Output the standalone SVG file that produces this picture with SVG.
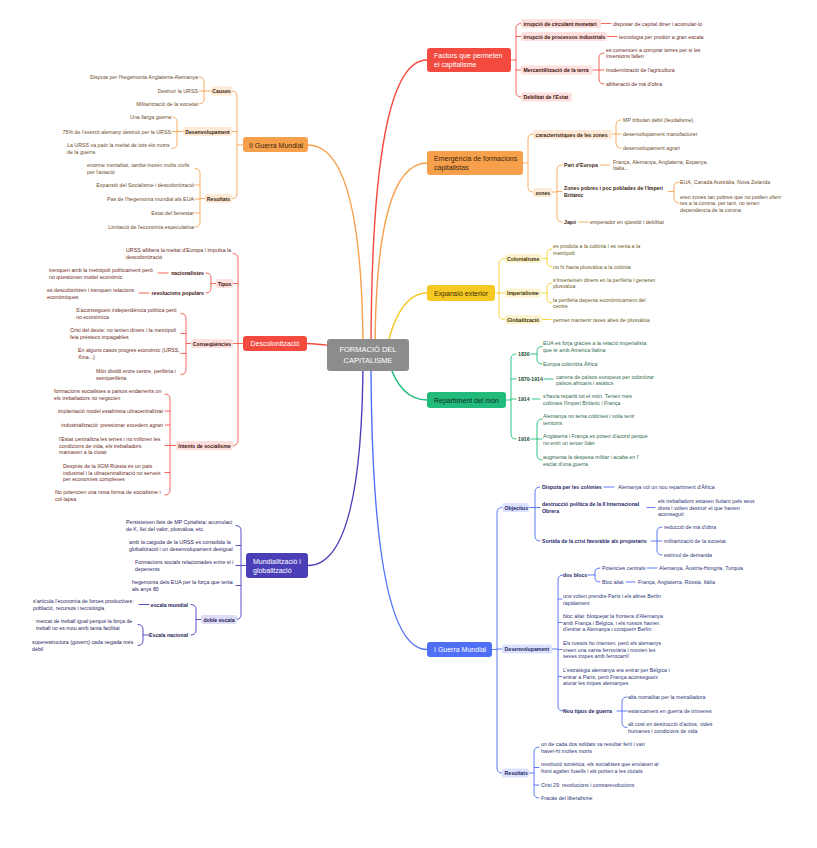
<svg xmlns="http://www.w3.org/2000/svg" width="817" height="848" viewBox="0 0 817 848">
<style>
text{font-family:"Liberation Sans",Arial,sans-serif;dominant-baseline:central}
.l{font-size:5.3px}
.s{font-size:5.2px;font-weight:bold}
.m{font-size:7px}
.e{text-anchor:end}
.c{text-anchor:middle}
.w{fill:#fff}
path{fill:none;stroke-linecap:round}
.lr{stroke:#f4675d;stroke-width:1}
.lo{stroke:#f8ad62;stroke-width:1}
.ly{stroke:#f5d23f;stroke-width:1}
.lg{stroke:#35c48a;stroke-width:1}
.lb{stroke:#5f7cf6;stroke-width:1}
.lp{stroke:#5a50c8;stroke-width:1}
.tr{fill:#6d2a24}.Tr{fill:#3d0f0c}
.to{fill:#6b4a2a}.To{fill:#3a260f}
.ty{fill:#6b5a22}.Ty{fill:#3b3000}
.tg{fill:#2e6a4c}.Tg{fill:#164a30}
.tb{fill:#2b3575}.Tb{fill:#1b2667}
.tp{fill:#2a2560}.Tp{fill:#1d1a55}
.br{fill:#fde0dd}.bo{fill:#fdead6}.by{fill:#fdf4cf}.bb{fill:#dce2fd}.bp{fill:#dedcf5}
</style>
<rect width="817" height="848" fill="#fff"/>
<g id="connectors">
<path d="M371 355 Q371 60 427 60" stroke="#f24a3f" stroke-width="1.4"/>
<path d="M375 355 Q375 163 427 163" stroke="#f7a04c" stroke-width="1.4"/>
<path d="M385 355 Q398 293 427 293" stroke="#f6c823" stroke-width="1.4"/>
<path d="M388 360 Q400 400 427 400" stroke="#22bb7c" stroke-width="1.4"/>
<path d="M371 355 Q371 649.5 427 649.5" stroke="#4e6ff6" stroke-width="1.4"/>
<path d="M363 355 Q363 145 308 145" stroke="#f7a04c" stroke-width="1.4"/>
<path d="M360 350 Q320 343.5 307 343.5" stroke="#f24a3f" stroke-width="1.4"/>
<path d="M363 355 Q363 565.5 308 565.5" stroke="#4b3fb8" stroke-width="1.4"/>
<!-- Factors -->
<path class="lr" d="M511 60 H516 M521 23.5 Q516 23.5 516 28.5 V92 Q516 97 521 97 M516 36.5 H521 M516 70 H521"/>
<path class="lr" d="M601 23.5 H611 M607 36.5 H617 M593 70 H599 M604 53 Q599 53 599 58 V79 Q599 84 604 84 M599 70 H604"/>
<!-- Emergencia -->
<path class="lo" d="M523 163 H528 M533 134 Q528 134 528 139 V187 Q528 192 533 192"/>
<path class="lo" d="M612 134 H616 M621 120 Q616 120 616 125 V143 Q616 148 621 148 M616 134 H621"/>
<path class="lo" d="M552 192 H557 M562 165 Q557 165 557 170 V217 Q557 222 562 222 M557 191.5 H562"/>
<path class="lo" d="M600 165 H610 M579 222 H588 M668 191.5 H674 M679 182 Q674 182 674 187 V198 Q674 203 679 203"/>
<!-- Expansio -->
<path class="ly" d="M495 293 H499 M505 258.5 Q499 258.5 499 263.5 V314.5 Q499 319.5 505 319.5 M499 293 H505"/>
<path class="ly" d="M542 258.5 H547 M552 249 Q547 249 547 254 V262 Q547 267 552 267"/>
<path class="ly" d="M541 293 H547 M552 283 Q547 283 547 288 V298 Q547 303 552 303 M542 319.5 H551"/>
<!-- Repartiment -->
<path class="lg" d="M506 400 H511 M516 354 Q511 354 511 359 V434 Q511 439 516 439 M511 379 H516 M511 399 H516"/>
<path class="lg" d="M531 354 H537 M542 346.5 Q537 346.5 537 351.5 V359 Q537 364 542 364"/>
<path class="lg" d="M544 379 H553 M532 399 H540"/>
<path class="lg" d="M531 439 H537 M542 419 Q537 419 537 424 V455 Q537 460 542 460 M537 439 H542"/>
<!-- I Guerra Mundial -->
<path class="lb" d="M492 649.5 H497 M502 507.5 Q497 507.5 497 512.5 V768 Q497 773 502 773 M497 649 H502"/>
<path class="lb" d="M529 507.5 H535 M540 487 Q535 487 535 492 V536 Q535 541 540 541 M535 507.5 H540"/>
<path class="lb" d="M604 487 H614 M647 507.5 H655 M651 541 H657 M662 527 Q657 527 657 532 V550 Q657 555 662 555 M657 541 H662"/>
<path class="lb" d="M552 649 H558 M563 575 Q558 575 558 580 V706 Q558 711 563 711 M558 599 H562 M558 622.5 H562 M558 649.5 H562 M558 676.5 H562"/>
<path class="lb" d="M588 575 H595 M600 568 Q595 568 595 572 V578 Q595 582 600 582 M647 568 H657 M626 582 H635"/>
<path class="lb" d="M617 711 H622 M627 697 Q622 697 622 702 V722.5 Q622 727.5 627 727.5 M622 711 H627"/>
<path class="lb" d="M529 773 H534 M539 747 Q534 747 534 752 V793 Q534 798 539 798 M534 767.5 H539 M534 785 H539"/>
<!-- II Guerra Mundial -->
<path class="lo" d="M243 145 H237 M232 91 Q237 91 237 96 V193.5 Q237 198.5 232 198.5 M237 131.5 H232"/>
<path class="lo" d="M211 91 H204 M199 77 Q204 77 204 82 V99 Q204 104 199 104 M204 91 H199"/>
<path class="lo" d="M183 131.5 H177 M172 117 Q177 117 177 122 V143.5 Q177 148.5 172 148.5 M177 131.5 H172"/>
<path class="lo" d="M205 198.5 H200 M195 168.5 Q200 168.5 200 173.5 V222 Q200 227 195 227 M200 185 H195 M200 199 H195 M200 213 H195"/>
<!-- Descolonitzacio -->
<path class="lr" d="M243 343.5 H238 M233 253.5 Q238 253.5 238 258.5 V440.5 Q238 445.5 233 445.5 M238 283.5 H233 M238 343.5 H233"/>
<path class="lr" d="M216 283.5 H211 M206 273 Q211 273 211 278 V288 Q211 293 206 293 M168 273 H158 M149 293 H139"/>
<path class="lr" d="M191 343.5 H186 M181 313.5 Q186 313.5 186 318.5 V369.5 Q186 374.5 181 374.5 M186 333.5 H181 M186 353.5 H181"/>
<path class="lr" d="M176 445.5 H170 M165 394 Q170 394 170 399 V490 Q170 495 165 495 M170 411 H165 M170 425 H165 M170 445.5 H165 M170 472.5 H165"/>
<!-- Mundialitzacio -->
<path class="lp" d="M246 565.5 H241 M236 525.5 Q241 525.5 241 530.5 V614.5 Q241 619.5 236 619.5 M241 545.5 H236 M241 565.5 H236 M241 585.5 H236"/>
<path class="lp" d="M201 619.5 H196 M191 604.5 Q196 604.5 196 609.5 V630 Q196 635 191 635 M149 604.5 H139"/>
<path class="lp" d="M149 635 H143 M138 624.5 Q143 624.5 143 629.5 V640.5 Q143 645.5 138 645.5"/>
</g>
<g id="root">
<rect x="327" y="339" width="82" height="32" rx="3" fill="#8c8c8c"/>
<text class="c w" x="368" y="349.5" style="font-size:7.5px">FORMACIÓ DEL</text>
<text class="c w" x="368" y="360" style="font-size:7.5px">CAPITALISME</text>
</g>
<g id="factors">
<rect x="427" y="48" width="84" height="24" rx="3" fill="#f24a3f"/>
<text class="m w" x="434" y="55.5">Factors que permeten</text>
<text class="m w" x="434" y="64.5">el capitalisme</text>
<rect class="br" x="521" y="19" width="80" height="9" rx="2"/><text class="s Tr" x="523.5" y="23.5">irrupció de circulant monetari</text>
<rect class="br" x="521" y="32" width="86" height="9" rx="2"/><text class="s Tr" x="523.5" y="36.5">irrupció de processos industrials</text>
<rect class="br" x="521" y="65.5" width="72" height="9" rx="2"/><text class="s Tr" x="523.5" y="70">Mercantilització de la terra</text>
<rect class="br" x="521" y="92.5" width="51" height="9" rx="2"/><text class="s Tr" x="523.5" y="97">Debilitat de l'Estat</text>
<text class="l tr" x="613" y="23.5">disposar de capital diner i acumular-lo</text>
<text class="l tr" x="619" y="36.5">tecnologia per produir a gran escala</text>
<text class="l tr" x="606" y="49.5">es comencen a comprar terres per si les</text>
<text class="l tr" x="606" y="56">inversions fallen</text>
<text class="l tr" x="606" y="70">modernització de l'agricultura</text>
<text class="l tr" x="606" y="84">alliberació de mà d'obra</text>
</g>
<g id="emergencia">
<rect x="427" y="151" width="96" height="24" rx="3" fill="#f7a04c"/>
<text class="m To" x="434" y="158.5">Emergència de formacions</text>
<text class="m To" x="434" y="167.5">capitalistas</text>
<rect class="bo" x="533" y="130" width="79" height="9" rx="2"/><text class="s To" x="535.5" y="134.5">característiques de les zones</text>
<rect class="bo" x="533" y="188" width="19" height="9" rx="2"/><text class="s To" x="535.5" y="192.5">zones</text>
<text class="l to" x="623" y="120">MP tributari dèbil (feudalisme)</text>
<text class="l to" x="623" y="134">desenvolupament manufacturer</text>
<text class="l to" x="623" y="148">desenvolupament agrari</text>
<text class="s To" x="564" y="165">Part d'Europa</text>
<text class="l to" x="613" y="161.5">França, Alemanya, Anglaterra, Espanya,</text>
<text class="l to" x="613" y="168">Itàlia...</text>
<text class="s To" x="564" y="188">Zones pobres i poc poblades de l'Imperi</text>
<text class="s To" x="564" y="195">Britànic</text>
<text class="l to" x="680" y="182">EUA, Canadà Austràlia, Nova Zelanda</text>
<text class="l to" x="680" y="196.5">eren zones tan pobres que no podien oferir</text>
<text class="l to" x="680" y="203">res a la corona, per tant, no tenen</text>
<text class="l to" x="680" y="209.5">dependència de la corona</text>
<text class="s To" x="564" y="222">Japó</text>
<text class="l to" x="590" y="222">emperador en qüestió i debilitat</text>
</g>
<g id="expansio">
<rect x="427" y="285" width="68" height="16" rx="3" fill="#f6c823"/>
<text class="m Ty" x="434" y="293">Expansió exterior</text>
<rect class="by" x="505" y="254" width="37" height="9" rx="2"/><text class="s Ty" x="507" y="258.5">Colonialisme</text>
<rect class="by" x="505" y="288.5" width="36" height="9" rx="2"/><text class="s Ty" x="507" y="293">Imperialisme</text>
<rect class="by" x="505" y="315" width="37" height="9" rx="2"/><text class="s Ty" x="507" y="319.5">Globalització</text>
<text class="l ty" x="553" y="246">es produïa a la colònia i es venia a la</text>
<text class="l ty" x="553" y="252.5">metròpoli</text>
<text class="l ty" x="553" y="267">no hi havia plusvàlua a la colònia</text>
<text class="l ty" x="553" y="279.5">s'inverteixen diners en la perifèria i generen</text>
<text class="l ty" x="553" y="286">plusvàlua</text>
<text class="l ty" x="553" y="299.5">la perifèria depenia econòmicament del</text>
<text class="l ty" x="553" y="306">centre</text>
<text class="l ty" x="553" y="320">permet mantenir taxes altes de plusvàlua</text>
</g>
<g id="repartiment">
<rect x="427" y="392" width="79" height="16" rx="3" fill="#22bb7c"/>
<text class="m" x="434" y="400" fill="#0c2c1c">Repartiment del món</text>
<text class="s Tg" x="518" y="354">1830</text>
<text class="s Tg" x="518" y="379">1870-1914</text>
<text class="s Tg" x="518" y="399">1914</text>
<text class="s Tg" x="518" y="439">1916</text>
<text class="l tg" x="543" y="343">EUA es forja gràcies a la relació imperialista</text>
<text class="l tg" x="543" y="349.5">que té amb Amèrica llatina</text>
<text class="l tg" x="543" y="364">Europa colonitza Àfrica</text>
<text class="l tg" x="556" y="376.5">carrera de països europeus per colonitzar</text>
<text class="l tg" x="556" y="383">països africans i asiàtics</text>
<text class="l tg" x="543" y="396">s'havia repartit tot el món. Tenien més</text>
<text class="l tg" x="543" y="402.5">colònies l'Imperi Britànic i França</text>
<text class="l tg" x="543" y="416">Alemanya no tenia colònies i volia tenir</text>
<text class="l tg" x="543" y="422.5">territoris</text>
<text class="l tg" x="543" y="436">Anglaterra i França es posen d'acord perquè</text>
<text class="l tg" x="543" y="442.5">no entri un tercer líder</text>
<text class="l tg" x="543" y="457">augmenta la despesa militar i acaba en l'</text>
<text class="l tg" x="543" y="463.5">esclat d'una guerra</text>
</g>
<g id="iguerra">
<rect x="427" y="642" width="65" height="15" rx="3" fill="#4e6ff6"/>
<text class="m w" x="434" y="649.5">I Guerra Mundial</text>
<rect class="bb" x="502" y="503" width="27" height="9" rx="2"/><text class="s Tb" x="504.5" y="507.5">Objectius</text>
<rect class="bb" x="502" y="644.5" width="50" height="9" rx="2"/><text class="s Tb" x="504.5" y="649">Desenvolupament</text>
<rect class="bb" x="502" y="768.5" width="27" height="9" rx="2"/><text class="s Tb" x="504.5" y="773">Resultats</text>
<text class="s Tb" x="542" y="487">Disputa per les colònies</text>
<text class="l tb" x="618" y="487">Alemanya vol un nou repartiment d'Àfrica</text>
<text class="s Tb" x="542" y="504">destrucció política de la II Internacional</text>
<text class="s Tb" x="542" y="511">Obrera</text>
<text class="l tb" x="658" y="501">els treballadors estaven lluitant pels seus</text>
<text class="l tb" x="658" y="507.5">drets i volien destruir el que havien</text>
<text class="l tb" x="658" y="514">aconseguit</text>
<text class="s Tb" x="542" y="541">Sortida de la crisi favorable als propietaris</text>
<text class="l tb" x="664" y="527">reducció de mà d'obra</text>
<text class="l tb" x="664" y="541">militarització de la societat</text>
<text class="l tb" x="664" y="555">estímul de demanda</text>
<text class="s Tb" x="563" y="575">dos blocs</text>
<text class="l tb" x="602" y="568">Potències centrals</text>
<text class="l tb" x="659" y="568">Alemanya, Àustria-Hongria, Turquia</text>
<text class="l tb" x="602" y="582">Bloc aliat</text>
<text class="l tb" x="638" y="582">França, Anglaterra, Rússia, Itàlia</text>
<text class="l tb" x="563" y="596">uns volien prendre París i els altres Berlín</text>
<text class="l tb" x="563" y="602.5">ràpidament</text>
<text class="l tb" x="563" y="616">bloc aliat: bloquejar la frontera d'Alemanya</text>
<text class="l tb" x="563" y="622.5">amb França i Bèlgica, i els russos havien</text>
<text class="l tb" x="563" y="629">d'entrar a Alemanya i conquerir Berlín</text>
<text class="l tb" x="563" y="643">Els russos ho intenten, però els alemanys</text>
<text class="l tb" x="563" y="649.5">creen una xarxa ferroviària i movien les</text>
<text class="l tb" x="563" y="656">seves tropes amb ferrocarril</text>
<text class="l tb" x="563" y="670">L'estratègia alemanya era entrar per Bèlgica i</text>
<text class="l tb" x="563" y="676.5">entrar a París, però França aconsegueix</text>
<text class="l tb" x="563" y="683">aturar les tropes alemanyes</text>
<text class="s Tb" x="563" y="711">Nou tipus de guerra</text>
<text class="l tb" x="628" y="697">alta mortalitat per la metralladora</text>
<text class="l tb" x="628" y="711">estancament en guerra de trinxeres</text>
<text class="l tb" x="628" y="724">alt cost en destrucció d'actius, vides</text>
<text class="l tb" x="628" y="730.5">humanes i condicions de vida</text>
<text class="l tb" x="541" y="744">un de cada dos soldats va resultar ferit i van</text>
<text class="l tb" x="541" y="750.5">haver-hi moltes morts</text>
<text class="l tb" x="541" y="764">revolució soviètica: els socialistes que enviaven al</text>
<text class="l tb" x="541" y="770.5">front agafen fusells i els porten a les ciutats</text>
<text class="l tb" x="541" y="785">Crisi 29: revolucions i contrarevolucions</text>
<text class="l tb" x="541" y="798">Fracàs del liberalisme</text>
</g>
<g id="iiguerra">
<rect x="243" y="137" width="65" height="15" rx="3" fill="#f7a04c"/>
<text class="m To" x="249" y="145">II Guerra Mundial</text>
<rect class="bo" x="211" y="86.5" width="21" height="9" rx="2"/><text class="s To c" x="221.5" y="91">Causes</text>
<rect class="bo" x="183" y="127" width="49" height="9" rx="2"/><text class="s To c" x="207.5" y="131.5">Desenvolupament</text>
<rect class="bo" x="205" y="194" width="27" height="9" rx="2"/><text class="s To c" x="218.5" y="198.5">Resultats</text>
<text class="l to e" x="198" y="77">Disputa per l'hegemonia Anglaterra-Alemanya</text>
<text class="l to e" x="198" y="91">Destruir la URSS</text>
<text class="l to e" x="198" y="104">Militarització de la societat</text>
<text class="l to e" x="171" y="117">Una llarga guerra</text>
<text class="l to e" x="171" y="131.5">75% de l'exèrcit alemany destruit per la URSS</text>
<text class="l to" x="67" y="145">La URSS va patir la meitat de tots els morts</text>
<text class="l to" x="67" y="151.5">de la guerra</text>
<text class="l to" x="87" y="165">enorme mortalitat, també moren molts civils</text>
<text class="l to" x="87" y="171.5">per l'aviació</text>
<text class="l to e" x="194" y="185">Expansió del Socialisme i descolonització</text>
<text class="l to e" x="194" y="199">Pas de l'hegemonia mundial als EUA</text>
<text class="l to e" x="194" y="213">Estat del benestar</text>
<text class="l to e" x="194" y="227">Limitació de l'economia especulativa</text>
</g>
<g id="descolonitzacio">
<rect x="243" y="336" width="64" height="15" rx="3" fill="#f24a3f"/>
<text class="m w c" x="275" y="343.5">Descolonització</text>
<text class="l tr" x="126" y="250">URSS allibera la meitat d'Europa i impulsa la</text>
<text class="l tr" x="126" y="256.5">descolonització</text>
<rect class="br" x="216" y="279" width="17" height="9" rx="2"/><text class="s Tr c" x="224.5" y="283.5">Tipus</text>
<text class="s Tr e" x="204" y="273">nacionalistes</text>
<text class="s Tr e" x="204" y="293">revolucions populars</text>
<text class="l tr" x="49" y="270">trenquen amb la metròpoli políticament però</text>
<text class="l tr" x="49" y="276.5">no qüestionen model econòmic</text>
<text class="l tr" x="47" y="290">es descolonitzen i trenquen relacions</text>
<text class="l tr" x="47" y="296.5">econòmiques</text>
<rect class="br" x="191" y="339" width="42" height="9" rx="2"/><text class="s Tr c" x="212" y="343.5">Conseqüències</text>
<text class="l tr" x="76" y="310">S'aconsegueix independència política però</text>
<text class="l tr" x="76" y="316.5">no econòmica</text>
<text class="l tr" x="70" y="330">Crisi del deute: no tenien diners i la metròpoli</text>
<text class="l tr" x="70" y="336.5">feia préstecs impagables</text>
<text class="l tr" x="78" y="350">En alguns casos progrés econòmic (URSS,</text>
<text class="l tr" x="78" y="356.5">Xina...)</text>
<text class="l tr" x="96" y="371">Món dividit entre centre, perifèria i</text>
<text class="l tr" x="96" y="377.5">semiperifèria</text>
<rect class="br" x="176" y="441" width="57" height="9" rx="2"/><text class="s Tr c" x="204.5" y="445.5">Intents de socialisme</text>
<text class="l tr" x="54" y="391">formacions socialistes a països endarrerits on</text>
<text class="l tr" x="54" y="397.5">els treballadors no negocien</text>
<text class="l tr e" x="163" y="411">implantació model estalinista ultracentralitzat</text>
<text class="l tr e" x="163" y="425">industrialització: pressionar excedent agrari</text>
<text class="l tr" x="59" y="439">l'Estat centralitza les terres i no milloren les</text>
<text class="l tr" x="59" y="445.5">condicions de vida, els treballadors</text>
<text class="l tr" x="59" y="452">marxaven a la ciutat</text>
<text class="l tr" x="63" y="466">Després de la IIGM Rússia és un país</text>
<text class="l tr" x="63" y="472.5">industrial i la ultracentralització no serveix</text>
<text class="l tr" x="63" y="479">per economies complexes</text>
<text class="l tr" x="55" y="492">No potencien una nova forma de socialisme i</text>
<text class="l tr" x="55" y="498.5">col·lapsa</text>
</g>
<g id="mundialitzacio">
<rect x="246" y="553" width="62" height="25" rx="3" fill="#4b3fb8"/>
<text class="m w" x="253" y="561">Mundialització i</text>
<text class="m w" x="253" y="570">globalització</text>
<text class="l tp" x="126" y="522">Persisteixen lleis de MP Cpitalista: acumulaci</text>
<text class="l tp" x="126" y="528.5">de K, llei del valor, plusvàlua, etc.</text>
<text class="l tp" x="129" y="542">amb la caiguda de la URSS es consolida la</text>
<text class="l tp" x="129" y="548.5">globalització i un desenvolupament desigual</text>
<text class="l tp" x="135" y="562">Formacions socials relacionades entre si i</text>
<text class="l tp" x="135" y="568.5">depenents</text>
<text class="l tp" x="132" y="582">hegemonia dels EUA per la força que tenia</text>
<text class="l tp" x="132" y="588.5">als anys 80</text>
<rect class="bp" x="201" y="615" width="36" height="9" rx="2"/><text class="s Tp c" x="219" y="619.5">doble escala</text>
<text class="s Tp e" x="188" y="604.5">escala mundial</text>
<text class="s Tp e" x="188" y="635">Escala nacional</text>
<text class="l tp" x="33" y="601">s'articula l'economia de forces productives:</text>
<text class="l tp" x="33" y="607.5">població, recursos i tecnologia</text>
<text class="l tp" x="36" y="621">mercat de treball igual perquè la força de</text>
<text class="l tp" x="36" y="627.5">treball no es mou amb tanta facilitat</text>
<text class="l tp" x="32" y="642">superestructura (govern) cada vegada més</text>
<text class="l tp" x="32" y="648.5">dèbil</text>
</g>
</svg>
